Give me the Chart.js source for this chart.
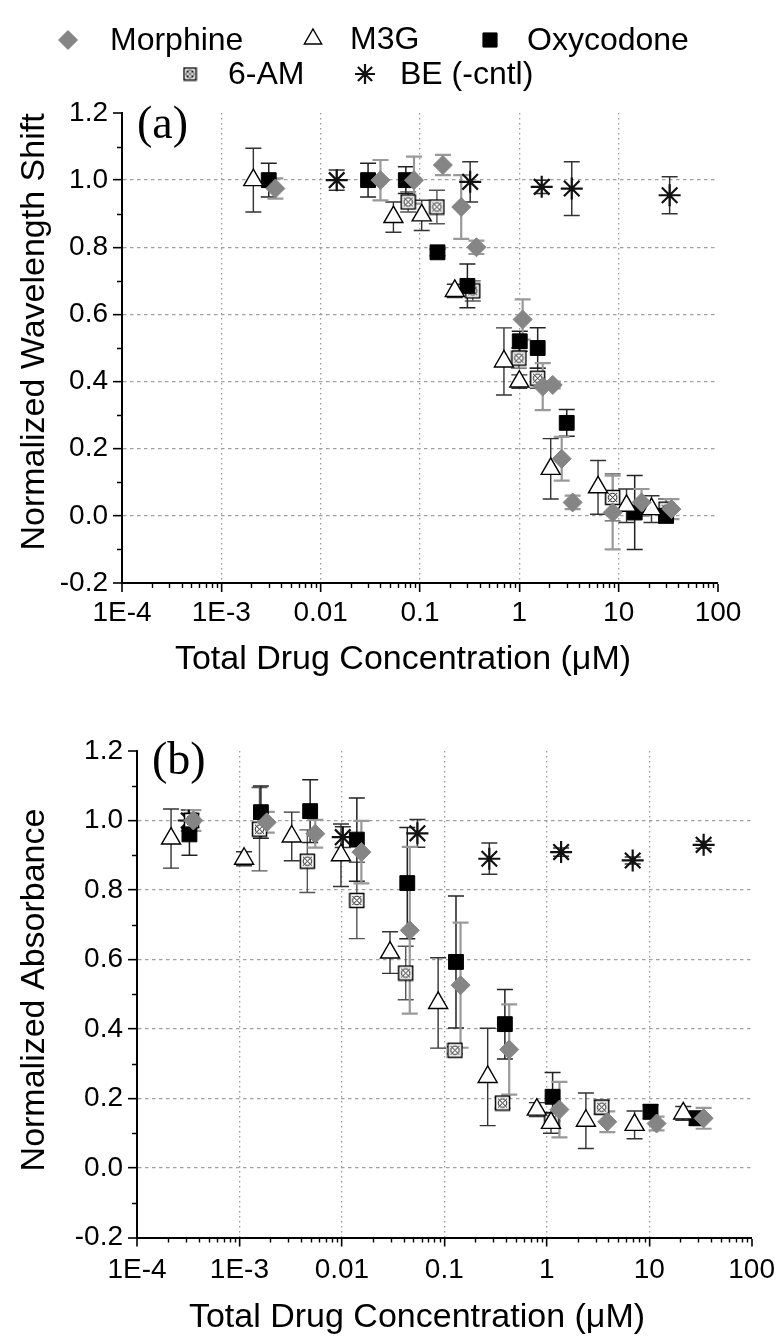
<!DOCTYPE html>
<html><head><meta charset="utf-8">
<script src="https://cdn.jsdelivr.net/npm/chart.js@4.4.1/dist/chart.umd.min.js"></script>
<style>
html,body{margin:0;padding:0;background:#fff;}
#wrap{position:relative;width:782px;height:1341px;overflow:hidden;background:#fff;}
canvas{position:absolute;left:0;}
#ca{top:0;} #cb{top:700px;}
</style></head><body>
<div id="wrap"><canvas id="ca" width="782" height="700"></canvas><canvas id="cb" width="782" height="641"></canvas></div>
<script>
// ---------- data ----------
const xTickValues = [1e-4, 1e-3, 0.01, 0.1, 1, 10, 100];
const xTickLabels = ['1E-4', '1E-3', '0.01', '0.1', '1', '10', '100'];
const yTickValues = [-0.2, 0, 0.2, 0.4, 0.6, 0.8, 1.0, 1.2];
const yTickLabels = ['-0.2', '0.0', '0.2', '0.4', '0.6', '0.8', '1.0', '1.2'];
const seriesNames = ['Morphine', 'M3G', 'Oxycodone', '6-AM', 'BE (-cntl)'];
const xTitle = 'Total Drug Concentration (\u03BCM)';
const yTitleA = 'Normalized Wavelength Shift';
const yTitleB = 'Normalized Absorbance';

// Panel (a): [concentration (uM), normalized wavelength shift, error]
const morphineA = [[0.0035,0.975,0.03],[0.040,1.00,0.06],[0.087,1.00,0.07],[0.17,1.045,0.03],[0.26,0.92,0.095],[0.37,0.80,0.02],[1.08,0.585,0.06],[1.72,0.385,0.07],[2.17,0.39,0.01],[2.67,0.17,0.065],[3.44,0.04,0.02],[8.7,0.01,0.11],[17,0.04,0.04],[34,0.02,0.03]];
const m3gA = [[0.0021,1.00,0.095],[0.054,0.89,0.045],[0.104,0.895,0.045],[0.224,0.67,0.02],[0.70,0.46,0.10],[1.0,0.40,0.02],[2.07,0.14,0.09],[6.2,0.085,0.08],[12,0.03,0.05],[21.4,0.02,0.04]];
const oxyA = [[0.003,1.00,0.05],[0.030,1.00,0.05],[0.072,1.00,0.04],[0.15,0.785,0.01],[0.30,0.685,0.065],[1.01,0.52,0.03],[1.53,0.50,0.06],[3.0,0.277,0.04],[14.5,0.01,0.11],[30,0.00,0.02]];
const amA = [[0.076,0.935,0.03],[0.148,0.92,0.05],[0.34,0.67,0.03],[0.99,0.47,0.03],[1.53,0.41,0.03],[8.7,0.055,0.07],[30,0.02,0.03]];
const beA = [[0.0145,1.00,0.03],[0.32,0.995,0.06],[1.68,0.98,0.02],[3.37,0.975,0.08],[32.6,0.955,0.055]];

// Panel (b): [concentration (uM), normalized absorbance, error]
const morphineB = [[3.55e-4,1.00,0.03],[1.85e-3,0.995,0.03],[5.5e-3,0.962,0.04],[0.0155,0.909,0.09],[0.046,0.684,0.24],[0.144,0.526,0.18],[0.43,0.341,0.13],[1.33,0.168,0.08],[3.9,0.133,0.03],[11.8,0.128,0.02],[34,0.143,0.03]];
const m3gB = [[2.15e-4,0.948,0.085],[1.11e-3,0.89,0.02],[3.24e-3,0.954,0.07],[9.8e-3,0.90,0.09],[0.0295,0.62,0.06],[0.087,0.475,0.13],[0.265,0.262,0.14],[0.8,0.168,0.02],[1.1,0.13,0.03],[2.41,0.136,0.08],[7.2,0.124,0.04],[21.5,0.157,0.02]];
const oxyB = [[3.25e-4,0.96,0.06],[1.62e-3,1.024,0.075],[4.9e-3,1.027,0.09],[0.014,0.945,0.12],[0.0435,0.82,0.16],[0.13,0.593,0.19],[0.39,0.414,0.10],[1.14,0.205,0.07],[10.3,0.162,0.02],[29,0.143,0.02]];
const amB = [[3.4e-4,1.00,0.02],[1.57e-3,0.975,0.12],[4.6e-3,0.883,0.09],[0.014,0.77,0.11],[0.042,0.561,0.077],[0.127,0.339,0.01],[0.37,0.187,0.015],[1.12,0.138,0.02],[3.44,0.175,0.02]];
const beB = [[3.2e-4,1.00,0.03],[0.0102,0.952,0.03],[0.0546,0.963,0.04],[0.275,0.89,0.045],[1.38,0.909,0.012],[6.9,0.885,0.01],[34,0.93,0.01]];

// ---------- styles ----------
const SANS = '"Liberation Sans", Arial, Helvetica, sans-serif';
const SERIF = '"Liberation Serif", "Times New Roman", serif';
const GRAY = '#858585';

function makeBoxX(size){
  const c = document.createElement('canvas'); c.width = size; c.height = size;
  const g = c.getContext('2d');
  g.fillStyle = '#fff'; g.fillRect(1,1,size-2,size-2);
  g.strokeStyle = '#000'; g.lineWidth = 1.5;
  g.strokeRect(1.5,1.5,size-3,size-3);
  g.lineWidth = 0.9;
  g.beginPath(); g.moveTo(4,4); g.lineTo(size-4,size-4); g.moveTo(size-4,4); g.lineTo(4,size-4); g.stroke();
  g.beginPath(); g.arc(size/2,size/2,size*0.25,0,Math.PI*2); g.stroke();
  return c;
}
const boxX = makeBoxX(17);
const boxXs = makeBoxX(15);

const styles = [
  {pointStyle:'rectRot', radius:9.5, bg:GRAY, border:GRAY, bw:1, err:'#999', ew:2.2},
  {pointStyle:'triangle', radius:11, bg:'#fff', border:'#000', bw:1.4, err:'#333', ew:1.4},
  {pointStyle:'rect', radius:10.5, bg:'#000', border:'#000', bw:1, err:'#222', ew:1.5},
  {pointStyle:boxX, radius:8.5, bg:'#fff', border:'#000', bw:1.2, err:'#555', ew:1.4},
  {pointStyle:'star', radius:11, bg:'#000', border:'#111', bw:2.2, err:'#333', ew:1.5}
];

function toPts(arr){ return arr.map(r => ({x:r[0], y:r[1], e:r[2]})); }
function makeDatasets(list){
  return list.map((arr,i) => ({
    label: seriesNames[i],
    data: toPts(arr),
    pointStyle: styles[i].pointStyle,
    pointRadius: styles[i].radius,
    pointHoverRadius: styles[i].radius,
    backgroundColor: styles[i].bg,
    borderColor: styles[i].border,
    borderWidth: styles[i].bw,
    errColor: styles[i].err,
    errWidth: styles[i].ew,
    showLine: false
  }));
}

// ---------- plugins ----------
const errorBars = {
  id:'errorBars',
  beforeDatasetsDraw(chart){
    const ctx = chart.ctx, xs = chart.scales.x, ys = chart.scales.y;
    for (let i = chart.data.datasets.length-1; i >= 0; i--){
      const ds = chart.data.datasets[i];
      ctx.save(); ctx.strokeStyle = ds.errColor; ctx.lineWidth = ds.errWidth;
      ds.data.forEach(d => {
        const px = xs.getPixelForValue(d.x);
        const t = ys.getPixelForValue(d.y + d.e), b = ys.getPixelForValue(d.y - d.e);
        ctx.beginPath();
        ctx.moveTo(px,t); ctx.lineTo(px,b);
        ctx.moveTo(px-8,t); ctx.lineTo(px+8,t);
        ctx.moveTo(px-8,b); ctx.lineTo(px+8,b);
        ctx.stroke();
      });
      ctx.restore();
    }
  }
};

const minorTicks = {
  id:'minorTicks',
  afterDraw(chart){
    const ctx = chart.ctx, xs = chart.scales.x, ys = chart.scales.y, a = chart.chartArea;
    ctx.save(); ctx.strokeStyle = '#000'; ctx.lineWidth = 1.4;
    ctx.beginPath();
    for (let n = -4; n < 2; n++){
      for (let m = 2; m <= 9; m++){
        const px = Math.round(xs.getPixelForValue(m*Math.pow(10,n))) + 0.5;
        ctx.moveTo(px, a.bottom); ctx.lineTo(px, a.bottom + 5);
      }
    }
    for (let k = 0; k < yTickValues.length-1; k++){
      const v = (yTickValues[k] + yTickValues[k+1]) / 2;
      const py = Math.round(ys.getPixelForValue(v)) + 0.5;
      ctx.moveTo(a.left - 5, py); ctx.lineTo(a.left, py);
    }
    ctx.stroke(); ctx.restore();
  }
};

function drawSymbol(ctx, st, x, y, r){
  ctx.save();
  ctx.fillStyle = st.bg; ctx.strokeStyle = st.border; ctx.lineWidth = st.bw;
  if (Chart.helpers && Chart.helpers.drawPoint){
    Chart.helpers.drawPoint(ctx, {pointStyle: st.pointStyle === boxX ? boxXs : st.pointStyle, radius:r, borderWidth:st.bw, rotation:0}, x, y);
  }
  ctx.restore();
}

const deco = {
  id:'deco',
  afterDraw(chart, args, o){
    const ctx = chart.ctx;
    ctx.save();
    ctx.fillStyle = '#000';
    ctx.font = '46px ' + SERIF; ctx.textAlign = 'left'; ctx.textBaseline = 'middle';
    ctx.fillText(o.panel, o.panelX, o.panelY);
    ctx.font = '34px ' + SANS; ctx.textAlign = 'center'; ctx.textBaseline = 'middle';
    ctx.fillText(xTitle, o.xtX, o.xtY);
    ctx.save(); ctx.translate(o.ytX, o.ytY); ctx.rotate(-Math.PI/2);
    ctx.fillText(o.yTitle, 0, 0); ctx.restore();
    if (o.legend){
      const items = [
        {i:0, sx:68, sy:40, r:9.5, tx:110},
        {i:1, sx:313, sy:39, r:10, tx:350},
        {i:2, sx:490, sy:40, r:10, tx:527},
        {i:3, sx:190, sy:74, r:8, tx:228},
        {i:4, sx:365, sy:74, r:10, tx:400}
      ];
      items.forEach(it => {
        drawSymbol(ctx, styles[it.i], it.sx, it.sy, it.r);
        ctx.fillStyle = '#000';
        ctx.font = '32px ' + SANS; ctx.textAlign = 'left'; ctx.textBaseline = 'middle';
        ctx.fillText(seriesNames[it.i], it.tx, it.sy + 1);
      });
    }
    ctx.restore();
  }
};

function makeConfig(datasets, dims, decoOpts){
  return {
    type:'scatter',
    data:{datasets},
    plugins:[errorBars, minorTicks, deco],
    options:{
      responsive:false, animation:false, devicePixelRatio:1,
      layout:{padding:{left:0, right:dims.padRight, top:dims.padTop, bottom:0}},
      plugins:{legend:{display:false}, tooltip:{enabled:false}, deco:decoOpts},
      scales:{
        x:{
          type:'logarithmic', min:1e-4, max:100,
          afterBuildTicks: s => { s.ticks = xTickValues.map(v => ({value:v, major:true})); },
          afterFit: s => { s.height = dims.xH; },
          ticks:{autoSkip:false, maxRotation:0, padding:dims.xPad, color:'#000',
                 font:{family:SANS, size:28}, callback:(v,i) => xTickLabels[i]},
          grid:{drawOnChartArea:true, drawTicks:true, tickLength:9,
                lineWidth: c => (c.index === 0 || c.index === xTickValues.length-1) ? 0 : 1.3,
                color:'#9a9a9a', tickColor:'#000', tickWidth:1.6},
          border:{display:true, color:'#000', width:2, dash:[1.5,3.5]}
        },
        y:{
          type:'linear', min:-0.2, max:1.2,
          afterBuildTicks: s => { s.ticks = yTickValues.map(v => ({value:v})); },
          afterFit: s => { s.width = dims.yW; },
          ticks:{autoSkip:false, padding:5, color:'#000',
                 font:{family:SANS, size:28}, callback:(v,i) => yTickLabels[i]},
          grid:{drawOnChartArea:true, drawTicks:true, tickLength:9,
                lineWidth: c => (c.index === 0 || c.index === yTickValues.length-1) ? 0 : 1.3,
                color:'#a0a0a0', tickColor:'#000', tickWidth:1.6},
          border:{display:true, color:'#000', width:2, dash:[3.5,3.5]}
        }
      }
    }
  };
}

new Chart(document.getElementById('ca'), makeConfig(
  makeDatasets([morphineA, m3gA, oxyA, amA, beA]),
  {padRight:64, padTop:113, xH:117, xPad:4, yW:122},
  {panel:'(a)', panelX:137, panelY:126, xtX:403, xtY:660, ytX:35, ytY:332, yTitle:yTitleA, legend:true}
));
new Chart(document.getElementById('cb'), makeConfig(
  makeDatasets([morphineB, m3gB, oxyB, amB, beB]),
  {padRight:30, padTop:51, xH:103.5, xPad:7, yW:137},
  {panel:'(b)', panelX:152, panelY:62, xtX:417, xtY:618, ytX:35, ytY:290, yTitle:yTitleB, legend:false}
));
</script>
</body></html>
